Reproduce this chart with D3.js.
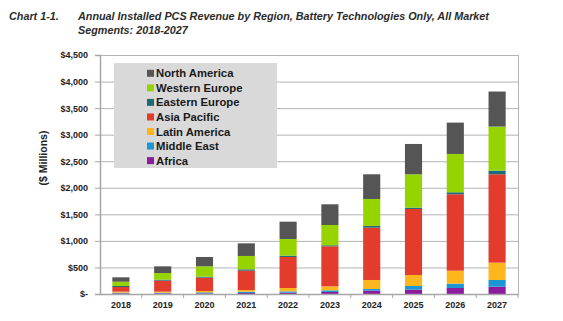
<!DOCTYPE html>
<html>
<head>
<meta charset="utf-8">
<script src="https://cdn.jsdelivr.net/npm/d3@7"></script>
<style>
  body { margin: 0; background: #fff; }
  svg { display: block; font-family: Arial, "Liberation Sans", sans-serif; }
</style>
</head>
<body>
<svg id="chart" width="563" height="321"></svg>
<script>
const years = ['2018', '2019', '2020', '2021', '2022', '2023', '2024', '2025', '2026', '2027'];

// $ millions
const africa = [12, 12, 12, 19, 25, 38, 63, 82, 113, 138];
const middleEast = [13, 13, 19, 25, 25, 31, 31, 69, 82, 126];
const latinAmerica = [19, 19, 25, 31, 63, 75, 170, 207, 244, 326];
const asiaPacific = [88, 207, 252, 364, 584, 754, 985, 1243, 1438, 1664];
const easternEurope = [19, 19, 18, 26, 25, 19, 32, 25, 38, 70];
const westernEurope = [81, 125, 195, 251, 314, 382, 508, 628, 722, 828];
const northAmerica = [82, 126, 176, 238, 326, 390, 465, 571, 590, 660];

const yTicks = [0, 500, 1000, 1500, 2000, 2500, 3000, 3500, 4000, 4500];

// bottom to top
const regions = [
	{ name: 'Africa', values: africa, color: '#8b1c9e' },
	{ name: 'Middle East', values: middleEast, color: '#1b98d4' },
	{ name: 'Latin America', values: latinAmerica, color: '#fdb71c' },
	{ name: 'Asia Pacific', values: asiaPacific, color: '#e33b2c' },
	{ name: 'Eastern Europe', values: easternEurope, color: '#1d6b78' },
	{ name: 'Western Europe', values: westernEurope, color: '#96d400' },
	{ name: 'North America', values: northAmerica, color: '#555555' },
];

const rows = years.map((year, i) => {
	let row = { year: year };
	regions.forEach((r) => (row[r.name] = r.values[i]));
	return row;
});

const svg = d3.select('#chart');
const plotLeft = 100, plotRight = 518, plotTop = 55, plotBottom = 294;

const x = d3.scaleBand().domain(years).range([plotLeft, plotRight]).paddingInner(0.59).paddingOuter(0.295);
const y = d3.scaleLinear().domain([0, 4500]).range([plotBottom, plotTop]);

// title
const title = svg.append('g').attr('fill', '#2b2b2b')
	.attr('font-weight', 'bold').attr('font-style', 'italic').attr('font-size', 10.8);
title.append('text').attr('x', 9).attr('y', 20).text('Chart 1-1.');
title.append('text').attr('x', 78).attr('y', 20)
	.text('Annual Installed PCS Revenue by Region, Battery Technologies Only, All Market');
title.append('text').attr('x', 78).attr('y', 34).text('Segments: 2018-2027');

// grid
svg.append('g')
	.selectAll('line')
	.data(yTicks.filter((t) => t > 0))
	.enter()
	.append('line')
	.attr('x1', plotLeft).attr('x2', plotRight)
	.attr('y1', (d) => y(d) + 0.5).attr('y2', (d) => y(d) + 0.5)
	.attr('stroke', '#b3b3b3').attr('stroke-width', 1);

// right border
svg.append('line')
	.attr('x1', plotRight + 0.5).attr('x2', plotRight + 0.5).attr('y1', plotTop).attr('y2', plotBottom)
	.attr('stroke', '#b3b3b3');

// bars
const stack = d3.stack().keys(regions.map((r) => r.name));
const series = stack(rows);

svg.append('g')
	.selectAll('g')
	.data(series)
	.enter()
	.append('g')
	.attr('fill', (s, i) => regions[i].color)
	.selectAll('rect')
	.data((s) => s)
	.enter()
	.append('rect')
	.attr('x', (d) => x(d.data.year))
	.attr('width', x.bandwidth())
	.attr('y', (d) => y(d[1]))
	.attr('height', (d) => y(d[0]) - y(d[1]));

// y axis
const yAxis = svg.append('g')
	.attr('transform', `translate(${plotLeft},0)`)
	.call(d3.axisLeft(y).tickValues(yTicks).tickSize(5).tickPadding(7)
		.tickFormat((v) => (v === 0 ? '$-' : '$' + d3.format(',')(v))));
yAxis.select('.domain').attr('stroke', '#a6a6a6').attr('stroke-width', 1.5);
yAxis.selectAll('.tick line').attr('stroke', '#a6a6a6');
yAxis.selectAll('.tick text')
	.attr('font-size', 9).attr('font-weight', 'bold').attr('fill', '#222')
	.attr('font-family', 'Arial, "Liberation Sans", sans-serif');

// x axis
const xAxisG = svg.append('g').attr('transform', `translate(0,${plotBottom})`);
xAxisG.append('line')
	.attr('x1', plotLeft).attr('x2', plotRight + 1).attr('y1', 0.5).attr('y2', 0.5)
	.attr('stroke', '#a6a6a6').attr('stroke-width', 1.5);
xAxisG.selectAll('.sep')
	.data(years)
	.enter()
	.append('line')
	.attr('class', 'sep')
	.attr('x1', (d, i) => plotLeft + (i + 1) * x.step())
	.attr('x2', (d, i) => plotLeft + (i + 1) * x.step())
	.attr('y1', 0).attr('y2', 4)
	.attr('stroke', '#a6a6a6');
xAxisG.selectAll('.lbl')
	.data(years)
	.enter()
	.append('text')
	.attr('class', 'lbl')
	.attr('x', (d) => x(d) + x.bandwidth() / 2)
	.attr('y', 14)
	.attr('text-anchor', 'middle')
	.attr('font-size', 9).attr('font-weight', 'bold').attr('fill', '#222')
	.text((d) => d);

// y title
svg.append('text')
	.attr('transform', 'translate(47,158) rotate(-90)')
	.attr('text-anchor', 'middle')
	.attr('font-size', 10.5).attr('font-weight', 'bold').attr('fill', '#222')
	.text('($ Millions)');

// legend
const legend = svg.append('g');
legend.append('rect')
	.attr('x', 114).attr('y', 63).attr('width', 163).attr('height', 105)
	.attr('fill', '#d9d9d9');
const items = legend.selectAll('.item')
	.data(regions.slice().reverse())
	.enter()
	.append('g')
	.attr('class', 'item')
	.attr('transform', (d, i) => `translate(147,${73.3 + i * 14.55})`);
items.append('rect')
	.attr('x', 0).attr('y', -3.5).attr('width', 7).attr('height', 7)
	.attr('fill', (d) => d.color);
items.append('text')
	.attr('x', 9).attr('y', 4)
	.attr('font-size', 11.3).attr('font-weight', 'bold').attr('fill', '#1a1a1a')
	.text((d) => d.name);
</script>
</body>
</html>
